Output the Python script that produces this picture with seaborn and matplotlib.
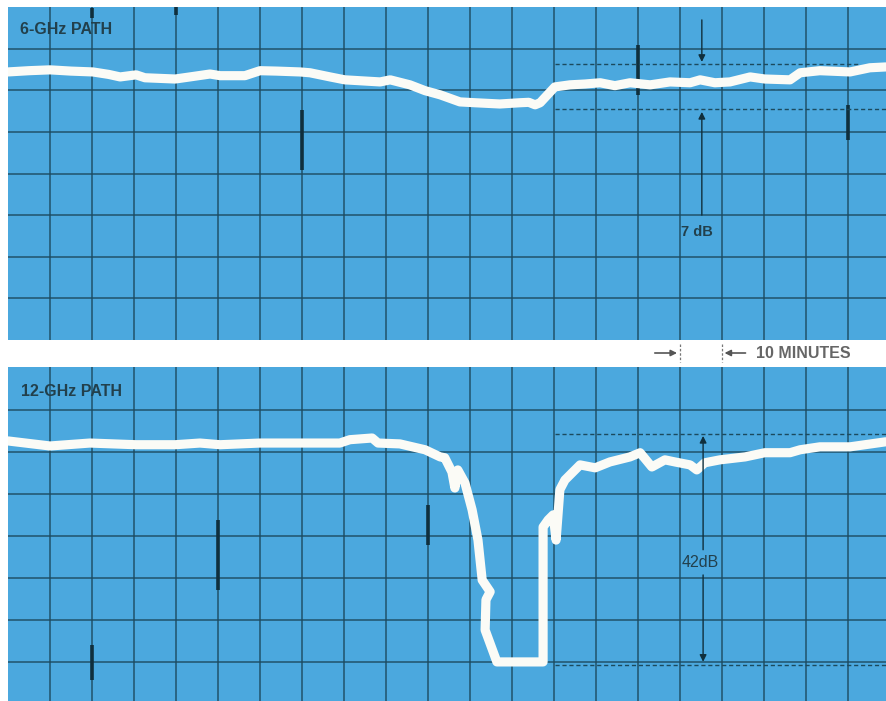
import numpy as np
import pandas as pd
import matplotlib
matplotlib.use("Agg")
import matplotlib.pyplot as plt
from matplotlib.transforms import blended_transform_factory
import seaborn as sns

# Chart-recorder traces: time in minutes (10 min per division),
# received level in chart divisions.
t_6ghz = [0, 5, 10, 15, 20.2, 24, 26.7, 30.5, 32.6, 39.8, 43.3, 48.1, 50.5, 56.4,
          60, 64, 69.5, 71.9, 76.7, 80.2, 88.6, 91, 95.7, 99.3, 102.9, 107.6,
          111.2, 117.1, 121.9, 124, 125.5, 126.7, 130.2, 133.8, 137.4, 141,
          144.5, 148.1, 152.9, 157.6, 162.4, 164.8, 168.3, 171.9, 176.7, 180.2,
          186.2, 188.6, 193.3, 200.5, 205.2, 209]
lvl_6ghz = [6.44, 6.47, 6.49, 6.46, 6.44, 6.38, 6.32, 6.37, 6.30, 6.27, 6.32, 6.39,
            6.35, 6.35, 6.47, 6.46, 6.44, 6.42, 6.32, 6.25, 6.20, 6.25, 6.13, 5.99,
            5.89, 5.72, 5.70, 5.67, 5.70, 5.71, 5.65, 5.70, 6.08, 6.13, 6.15, 6.18,
            6.11, 6.18, 6.13, 6.20, 6.18, 6.25, 6.18, 6.20, 6.32, 6.27, 6.25, 6.42,
            6.47, 6.44, 6.54, 6.56]

t_12ghz = [0, 5, 10, 19.5, 30.5, 39.8, 45.7, 50.5, 60, 69.5, 79, 81.4, 86.7, 88.1,
           93.3, 99.3, 102.9, 104, 105.7, 106.4, 107.1, 108.8, 110.5, 111.9, 112.9,
           114.8, 113.8, 113.6, 116.4, 127.4, 127.4, 128.6, 129.8, 130.5, 131.4,
           132.6, 136.2, 139.8, 143.3, 148.1, 150.5, 153.3, 156.4, 158.8, 162.4,
           164, 165.9, 169.5, 175.5, 180.2, 186.2, 188.6, 193.3, 200.5, 209]
lvl_12ghz = [6.26, 6.20, 6.14, 6.21, 6.17, 6.17, 6.21, 6.17, 6.21, 6.21, 6.21, 6.29,
             6.33, 6.21, 6.19, 6.05, 5.88, 5.86, 5.52, 5.14, 5.57, 5.26, 4.62, 3.90,
             2.95, 2.67, 2.48, 1.76, 1.00, 1.00, 4.21, 4.38, 4.50, 3.90, 5.10, 5.33,
             5.69, 5.62, 5.76, 5.88, 5.98, 5.64, 5.81, 5.76, 5.69, 5.57, 5.74, 5.81,
             5.88, 5.98, 5.98, 6.05, 6.12, 6.12, 6.24]

# Fade depth annotations
fade_db = [7, 42]
db_per_div = [6.48, 7.64]
ref_level = [6.63, 6.43]

# Event marks on the chart paper: (minute, bottom div, top div)
marks_6ghz = [(70, 4.09, 5.53), (150, 5.89, 7.09), (200, 4.81, 5.65),
              (40, 7.8, 8.0), (20, 7.74, 7.98)]
marks_12ghz = [(50, 2.71, 4.38), (20, 0.57, 1.40), (100, 3.79, 4.74)]

titles = ["6-GHz PATH", "12-GHz PATH"]

PAPER = "#4ba8de"
GRID = "#1c4a5e"
INK = "#22404c"
TRACE = "#fbfbf6"

sns.set_theme(style="white", rc={"axes.facecolor": PAPER})
plt.rcParams["font.family"] = ["Liberation Sans", "DejaVu Sans"]

W, H = 886, 701
fig = plt.figure(figsize=(W / 100, H / 100), dpi=100)
fig.patch.set_facecolor("white")

ax_top = fig.add_axes([8 / W, (H - 340) / H, 878 / W, 333 / H])
ax_bot = fig.add_axes([8 / W, 0, 878 / W, 334 / H])

xmax = 878 / 4.2
panels = [
    (ax_top, t_6ghz, lvl_6ghz, marks_6ghz, (0, 8.0)),
    (ax_bot, t_12ghz, lvl_12ghz, marks_12ghz, (0.07, 8.02)),
]

for i, (ax, t, lvl, marks, ylim) in enumerate(panels):
    ax.set_facecolor(PAPER)
    ax.set_xlim(0, xmax)
    ax.set_ylim(*ylim)
    ax.set_xticks(np.arange(10, xmax, 10))
    ax.set_yticks(np.arange(1, 8))
    ax.grid(True, color=GRID, linewidth=1.1, alpha=0.9)
    ax.tick_params(length=0, labelbottom=False, labelleft=False)
    for s in ax.spines.values():
        s.set_visible(False)

    for m, y0, y1 in marks:
        ax.plot([m, m], [y0, y1], color="#102f3c", lw=2.6, solid_capstyle="butt", zorder=2)

    df = pd.DataFrame({"minutes": t, "level": lvl})
    sns.lineplot(data=df, x="minutes", y="level", ax=ax, sort=False, estimator=None,
                 color=TRACE, lw=6.6, zorder=3, solid_joinstyle="round",
                 solid_capstyle="round")
    ax.set_xlabel("")
    ax.set_ylabel("")

    ax.text(2.9 if i == 0 else 3.2, 7.45 if i == 0 else 7.43, titles[i],
            color=INK, fontsize=11.5, fontweight="bold", va="center", ha="left", zorder=4)

    # reference levels bounding the fade
    upper = ref_level[i]
    lower = upper - fade_db[i] / db_per_div[i]
    x_start = (555 - 8) / 4.2
    x_end_upper = (860 - 8) / 4.2 if i == 0 else xmax
    ax.plot([x_start, x_end_upper], [upper, upper], color=GRID, lw=1.0,
            ls=(0, (3, 2)), zorder=2)
    ax.plot([x_start, xmax], [lower, lower], color=GRID, lw=1.0,
            ls=(0, (3, 2)), zorder=2)

    stem_x = 165.2 if i == 0 else 165.5
    arrow = dict(arrowstyle="-|>", color="#102f3c", lw=1.0, mutation_scale=10,
                 shrinkA=0, shrinkB=0)
    if i == 0:
        ax.annotate("", xy=(stem_x, upper + 0.05), xytext=(stem_x, 7.69),
                    arrowprops=arrow, zorder=4)
        ax.annotate("", xy=(stem_x, lower - 0.07), xytext=(stem_x, 3.0),
                    arrowprops=arrow, zorder=4)
        ax.text(164.0, 2.6, f"{fade_db[i]} dB", color=INK, fontsize=10.5,
                fontweight="bold", ha="center", va="center", zorder=4)
    else:
        ax.annotate("", xy=(stem_x, upper - 0.05), xytext=(stem_x, 3.67),
                    arrowprops=arrow, zorder=4)
        ax.annotate("", xy=(stem_x, lower + 0.07), xytext=(stem_x, 3.07),
                    arrowprops=arrow, zorder=4)
        ax.text(164.8, 3.36, f"{fade_db[i]}dB", color=INK, fontsize=11.5,
                ha="center", va="center", zorder=4)

# Time scale between the panels: one division = 10 minutes
tr = blended_transform_factory(ax_top.transData, fig.transFigure)
y_mid = (H - 353) / H
for m in (160, 170):
    ax_top.plot([m, m], [(H - 344) / H, (H - 362) / H], transform=tr, clip_on=False,
                color="#777777", lw=0.9, ls=(0, (2, 1.5)))
small_arrow = dict(arrowstyle="-|>", color="#555555", lw=1.2, mutation_scale=9,
                   shrinkA=0, shrinkB=0)
ax_top.annotate("", xy=(159.3, y_mid), xytext=(154.0, y_mid), xycoords=tr,
                textcoords=tr, arrowprops=small_arrow, annotation_clip=False)
ax_top.annotate("", xy=(170.6, y_mid), xytext=(175.6, y_mid), xycoords=tr,
                textcoords=tr, arrowprops=small_arrow, annotation_clip=False)
ax_top.text(178.2, y_mid, "10 MINUTES", transform=tr, color="#666666",
            fontsize=11.5, fontweight="bold", ha="left", va="center", clip_on=False)

fig.savefig("out.png", dpi=100, facecolor="white")
